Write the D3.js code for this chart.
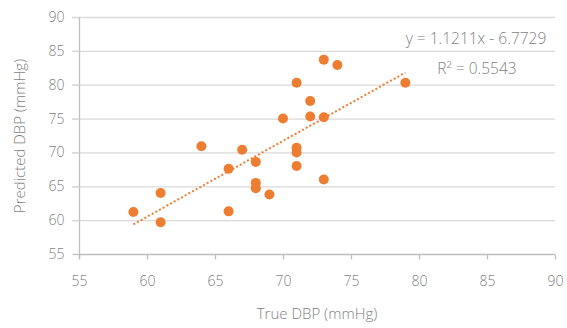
<!DOCTYPE html>
<html>
<head>
<meta charset="utf-8">
<script src="https://cdn.jsdelivr.net/npm/d3@7"></script>
<style>
  body { margin: 0; background: #fff; }
  text { font-family: "Open Sans", Lato, sans-serif; fill: #7f7f7f; font-weight: 300; }
</style>
</head>
<body>
<div id="chart"></div>
<script>
// true vs predicted DBP
var trueDBP = [59, 61, 61, 64, 66, 66, 67, 68, 68, 68, 69, 70, 71, 71, 71, 71, 72, 72, 73, 73, 73, 74, 79]
var predDBP = [61.2, 64.0, 59.7, 70.9, 67.6, 61.3, 70.4, 68.6, 65.5, 64.7, 63.8, 75.0, 80.3, 70.7, 70.0, 68.0, 77.6, 75.3, 83.7, 75.2, 66.0, 82.9, 80.3]

var xTicks = [55, 60, 65, 70, 75, 80, 85, 90]
var yTicks = [55, 60, 65, 70, 75, 80, 85, 90]

var slope = 1.1211, intercept = -6.7729, r2 = 0.5543

var width = 567, height = 328
var margin = {top: 17, right: 12, bottom: 74, left: 79}

var svg = d3.select('#chart').append('svg')
            .attr('width', width)
            .attr('height', height)

var x = d3.scaleLinear().domain([55, 90]).range([margin.left, width - margin.right])
var y = d3.scaleLinear().domain([55, 90]).range([height - margin.bottom, margin.top])

// horizontal grid
svg.append('g').selectAll('line')
  .data(yTicks.slice(1))
  .enter().append('line')
    .attr('x1', x(55) - 7).attr('x2', x(90))
    .attr('y1', d => y(d) + 0.5).attr('y2', d => y(d) + 0.5)
    .style('stroke', '#d9d9d9').style('stroke-width', 1.3)

// y axis
var yAxis = svg.append('g')
  .attr('transform', 'translate(' + (x(55) + 0.5) + ',0)')
  .call(d3.axisLeft(y).tickValues(yTicks).tickSize(7).tickPadding(8))
yAxis.select('.domain').attr('d', 'M0,' + y(90) + 'V' + (y(55) + 5)).style('stroke', '#bfbfbf').style('stroke-width', 1.3)
yAxis.selectAll('.tick line').style('stroke', d => d == 55 ? '#bfbfbf' : '#d9d9d9').style('stroke-width', 1.3)
yAxis.selectAll('.tick text').style('font-size', '14px').style('font-family', null)

// x axis
var xAxis = svg.append('g')
  .attr('transform', 'translate(0,' + (y(55) + 0.5) + ')')
  .call(d3.axisBottom(x).tickValues(xTicks).tickSize(5).tickPadding(17))
xAxis.select('.domain').attr('d', 'M' + x(55) + ',0H' + x(90)).style('stroke', '#bfbfbf').style('stroke-width', 1.3)
xAxis.selectAll('.tick line').style('stroke', '#bfbfbf').style('stroke-width', 1.3)
xAxis.selectAll('.tick text').style('font-size', '14px').style('font-family', null)
svg.selectAll('.tick text').style('fill', '#7f7f7f')

// trendline
var x0 = d3.min(trueDBP), x1 = d3.max(trueDBP)
svg.append('line')
  .attr('x1', x(x0)).attr('y1', y(slope * x0 + intercept))
  .attr('x2', x(x1)).attr('y2', y(slope * x1 + intercept))
  .style('stroke', '#ed7d31').style('stroke-width', 2)
  .style('stroke-dasharray', '2,2.2')

// points
svg.append('g').selectAll('circle')
  .data(trueDBP)
  .enter().append('circle')
    .attr('cx', (d) => x(d))
    .attr('cy', (d, i) => y(predDBP[i]))
    .attr('r', 5)
    .style('fill', '#ed7d31')

// equation labels
svg.append('text')
  .attr('x', 476).attr('y', 44)
  .attr('text-anchor', 'middle')
  .style('font-size', '15.5px')
  .text('y = ' + slope.toFixed(4) + 'x - ' + Math.abs(intercept).toFixed(4))
svg.append('text')
  .attr('x', 477).attr('y', 74)
  .attr('text-anchor', 'middle')
  .style('font-size', '15.5px')
  .text('R² = ' + r2.toFixed(4))

// axis titles
svg.append('text')
  .attr('x', 317).attr('y', 319)
  .attr('text-anchor', 'middle')
  .style('font-size', '15px')
  .text('True DBP (mmHg)')
svg.append('text')
  .attr('transform', 'translate(25,136) rotate(-90)')
  .attr('text-anchor', 'middle')
  .style('font-size', '15px')
  .text('Predicted DBP (mmHg)')
</script>
</body>
</html>
